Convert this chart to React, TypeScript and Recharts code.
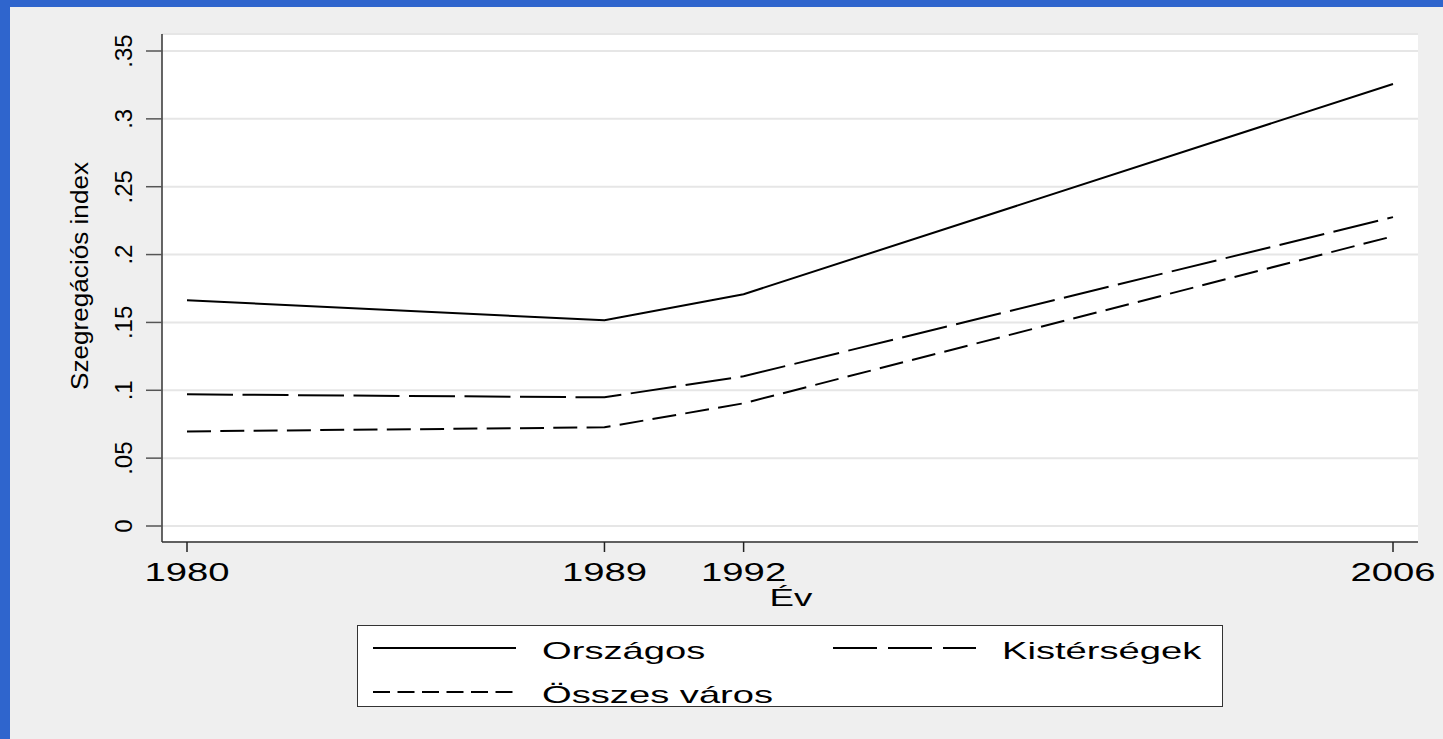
import { LineChart, Line, XAxis, YAxis, CartesianGrid, Legend, Label } from "recharts";

const FONT = "'Liberation Sans', Arial, sans-serif";

const years = [1980, 1989, 1992, 2006];
const orszagos = [0.1663, 0.1516, 0.1708, 0.3257];
const kistersegek = [0.097, 0.0948, 0.1103, 0.2276];
const osszesVaros = [0.0697, 0.0727, 0.0904, 0.2135];

const yTicks = [0, 0.05, 0.1, 0.15, 0.2, 0.25, 0.3, 0.35];
const yTickLabels = ["0", ".05", ".1", ".15", ".2", ".25", ".3", ".35"];

const data = years.map((year, i) => ({
  year,
  orszagos: orszagos[i],
  kistersegek: kistersegek[i],
  osszes: osszesVaros[i],
}));

const series = [
  { key: "orszagos", name: "Országos", dash: undefined, legendDash: undefined },
  { key: "kistersegek", name: "Kistérségek", dash: "46 9.5", legendDash: "44 11" },
  { key: "osszes", name: "Összes város", dash: "24 9.3", legendDash: "17 7.5" },
];

// stata output is stretched sideways, so text gets widened a bit
const XTick = ({ x, y, payload }: any) => (
  <text
    transform={`translate(${x},${y + 29}) scale(1.53,1)`}
    textAnchor="middle"
    fontSize={25}
    fontFamily={FONT}
    fill="#000"
  >
    {payload.value}
  </text>
);

const YTick = ({ x, y, payload }: any) => {
  const idx = yTicks.indexOf(payload.value);
  return (
    <text
      x={x}
      y={y}
      transform={`rotate(-90 ${x} ${y})`}
      textAnchor="middle"
      fontSize={24}
      fontFamily={FONT}
      fill="#000"
    >
      {yTickLabels[idx]}
    </text>
  );
};

const seriesIndex = (key: string) => series.findIndex((d) => d.key === key);

const LegendBox = ({ payload }: any) => {
  const items = [...(payload || [])].sort((a: any, b: any) => seriesIndex(a.dataKey) - seriesIndex(b.dataKey));
  return (
    <div
      style={{
        width: 866,
        height: 82,
        background: "#fff",
        border: "1px solid #333",
        boxSizing: "border-box",
      }}
    >
      <svg width={864} height={80} style={{ display: "block", overflow: "visible" }}>
        {items.map((entry: any, i: number) => {
          const s = series[seriesIndex(entry.dataKey)];
          const col = i % 2;
          const row = Math.floor(i / 2);
          const lx = 15 + col * 460;
          const ly = 22 + row * 44;
          return (
            <g key={entry.dataKey}>
              <line x1={lx} x2={lx + 143} y1={ly} y2={ly} stroke="#000" strokeWidth={2} strokeDasharray={s?.legendDash} />
              <text
                transform={`translate(${lx + 169},${ly + 11}) scale(1.66,1)`}
                fontSize={23}
                fontFamily={FONT}
                fill="#000"
              >
                {entry.value}
              </text>
            </g>
          );
        })}
      </svg>
    </div>
  );
};

export default function App() {
  return (
    <div style={{ position: "fixed", left: 0, top: 0, width: 1443, height: 739, background: "#2f65cd" }}>
      <div style={{ position: "absolute", left: 10, top: 7, width: 1433, height: 732, background: "#efefef" }}>
        <LineChart width={1433} height={732} data={data} margin={{ top: 27, right: 25, left: 0, bottom: 137 }}>
          <CartesianGrid vertical={false} fill="#fff" stroke="#e6e6e6" strokeWidth={2} />
          <XAxis
            dataKey="year"
            type="number"
            domain={[1980, 2006]}
            ticks={years}
            padding={{ left: 25, right: 25 }}
            height={60}
            tickSize={10}
            tickMargin={0}
            tick={<XTick />}
            axisLine={{ stroke: "#333", strokeWidth: 1.5 }}
            tickLine={{ stroke: "#222", strokeWidth: 1.5 }}
          >
            <Label
              content={() => (
                <text transform="translate(781,599) scale(1.53,1)" textAnchor="middle" fontSize={24} fontFamily={FONT} fill="#000">
                  Év
                </text>
              )}
            />
          </XAxis>
          <YAxis
            type="number"
            domain={[0, 0.35]}
            ticks={yTicks}
            padding={{ top: 17, bottom: 16 }}
            width={152}
            tickSize={16}
            tickMargin={14}
            tick={<YTick />}
            axisLine={{ stroke: "#333", strokeWidth: 1.5 }}
            tickLine={{ stroke: "#555", strokeWidth: 1.5 }}
          >
            <Label
              content={() => (
                <text
                  x={78}
                  y={269}
                  transform="rotate(-90 78 269)"
                  textAnchor="middle"
                  fontSize={23}
                  fontFamily={FONT}
                  textLength={228}
                  lengthAdjust="spacingAndGlyphs"
                  fill="#000"
                >
                  Szegregációs index
                </text>
              )}
            />
          </YAxis>
          <Legend
            verticalAlign="middle"
            align="center"
            content={<LegendBox />}
            wrapperStyle={{ left: 347, top: 618, width: 866, height: 82 }}
          />
          {series.map((s) => (
            <Line
              key={s.key}
              type="linear"
              dataKey={s.key}
              name={s.name}
              stroke="#000"
              strokeWidth={2}
              strokeDasharray={s.dash}
              dot={false}
              activeDot={false}
              legendType="line"
              isAnimationActive={false}
            />
          ))}
        </LineChart>
      </div>
    </div>
  );
}
